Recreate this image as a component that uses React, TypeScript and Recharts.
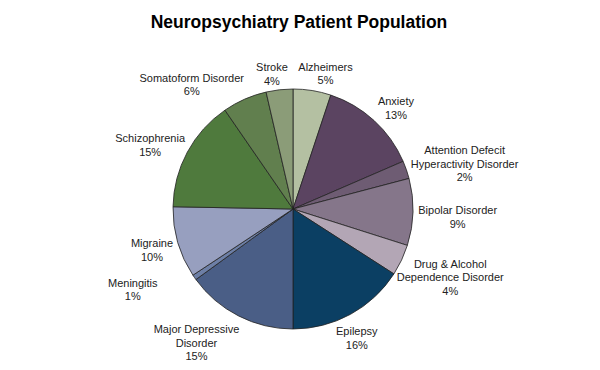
import { PieChart, Pie, Cell } from "recharts";

const categories = [
  "Alzheimers",
  "Anxiety",
  "Attention Defecit Hyperactivity Disorder",
  "Bipolar Disorder",
  "Drug & Alcohol Dependence Disorder",
  "Epilepsy",
  "Major Depressive Disorder",
  "Meningitis",
  "Migraine",
  "Schizophrenia",
  "Somatoform Disorder",
  "Stroke",
];

// share of patients, %
const shares = [5.1, 13.4, 2.4, 9.0, 4.2, 15.9, 15.0, 0.7, 9.6, 15.1, 6.0, 3.6];

// how each label is broken into lines
const labelLines = [
  ["Alzheimers"],
  ["Anxiety"],
  ["Attention Defecit", "Hyperactivity Disorder"],
  ["Bipolar Disorder"],
  ["Drug & Alcohol", "Dependence Disorder"],
  ["Epilepsy"],
  ["Major Depressive", "Disorder"],
  ["Meningitis"],
  ["Migraine"],
  ["Schizophrenia"],
  ["Somatoform Disorder"],
  ["Stroke"],
];

const colors = [
  "#b4c0a2",
  "#5b4461",
  "#6e5c73",
  "#85768a",
  "#b3a6b5",
  "#0b3f63",
  "#4a5e86",
  "#6d7fa6",
  "#979fbf",
  "#4f7a3d",
  "#617f4e",
  "#8b9c78",
];

const data = categories.map((name, i) => ({
  name,
  value: shares[i],
  lines: labelLines[i],
}));

// labels Excel shoved aside to avoid overlap
const labelNudge: Record<string, [number, number]> = {
  Alzheimers: [8, 2],
  Anxiety: [5, 2],
  "Attention Defecit Hyperactivity Disorder": [-6, 3],
  "Bipolar Disorder": [-6, 5],
  "Drug & Alcohol Dependence Disorder": [-5, 7],
  Epilepsy: [-7, 8],
  "Major Depressive Disorder": [-19, 5],
  Meningitis: [-34, 2],
  Migraine: [1, 3],
  Schizophrenia: [0, 2],
  "Somatoform Disorder": [-29, 3],
  Stroke: [-5, 3],
};

const RAD = Math.PI / 180;
const FONT = 11;
const LINE_H = 13.5;

function renderLabel(props: any) {
  const { cx, cy, midAngle, outerRadius, payload, percent } = props;
  const lines: string[] = [...payload.lines, `${Math.round(percent * 100)}%`];
  const widest = Math.max(...lines.map((l) => l.length * FONT * 0.52));
  const h = lines.length * LINE_H;
  // midAngle measured counter-clockwise from 3 o'clock
  const sin = -Math.sin(midAngle * RAD);
  const cos = Math.cos(midAngle * RAD);
  const r = outerRadius + 5;
  const px = cx + r * cos;
  const py = cy + r * sin;
  const nudge = labelNudge[payload.name] || [0, 0];
  const bx = px + (cos * widest) / 2 + nudge[0];
  const by = py + (sin * h) / 2 + nudge[1];
  const top = by - h / 2 + LINE_H * 0.75;
  return (
    <text
      x={bx}
      y={top}
      textAnchor="middle"
      fontSize={FONT}
      fill="#222"
      fontFamily="'Liberation Sans', Arial, sans-serif"
    >
      {lines.map((l, i) => (
        <tspan key={i} x={bx} y={top + i * LINE_H}>
          {l}
        </tspan>
      ))}
    </text>
  );
}

export default function App() {
  return (
    <div
      style={{
        width: 600,
        height: 370,
        margin: -8,
        background: "#fff",
        position: "relative",
        fontFamily: "'Liberation Sans', Arial, sans-serif",
      }}
    >
      <div
        style={{
          position: "absolute",
          top: 12,
          left: 0,
          width: 598,
          textAlign: "center",
          fontSize: 17.5,
          fontWeight: "bold",
          color: "#000",
        }}
      >
        Neuropsychiatry Patient Population
      </div>
      <PieChart width={600} height={370}>
        <Pie
          data={data}
          dataKey="value"
          nameKey="name"
          cx={288}
          cy={204}
          outerRadius={120}
          startAngle={90}
          endAngle={-270}
          stroke="#222"
          strokeWidth={0.8}
          label={renderLabel}
          labelLine={false}
          isAnimationActive={false}
        >
          {data.map((d, i) => (
            <Cell key={d.name} fill={colors[i]} />
          ))}
        </Pie>
      </PieChart>
    </div>
  );
}
